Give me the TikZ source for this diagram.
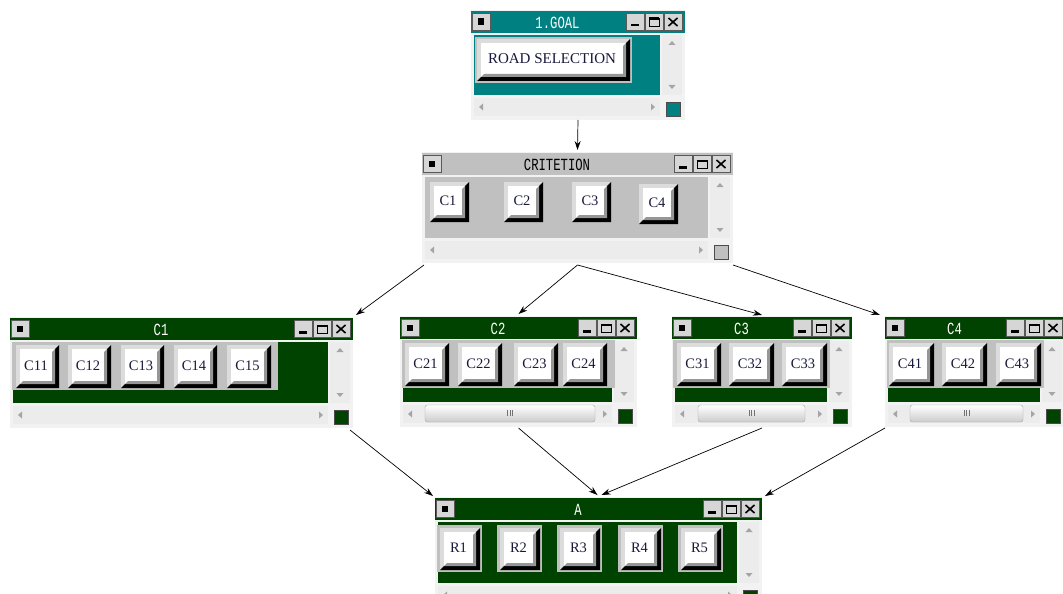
\documentclass[tikz,border=0pt]{standalone}
\usepackage{fontspec}
\setmainfont{Liberation Serif}
\newfontfamily\titlefont{Liberation Mono}
\usetikzlibrary{calc,arrows.meta}

\definecolor{winteal}{RGB}{0,128,128}
\definecolor{wingreen}{RGB}{0,66,0}
\definecolor{wingray}{RGB}{192,192,192}
\definecolor{winbg}{RGB}{242,242,242}
\definecolor{scrollbg}{RGB}{236,236,236}
\definecolor{tbgray}{RGB}{214,214,214}
\definecolor{btnhi}{RGB}{220,220,220}
\definecolor{btnmid}{RGB}{150,150,150}
\definecolor{btnink}{RGB}{25,25,60}
\definecolor{arrowgray}{RGB}{165,165,165}

\tikzset{
  winbox/.style={rectangle, fill=winbg, draw=none, inner sep=0pt, outer sep=0pt},
  titletext/.style={font=\titlefont\fontsize{17}{17}\selectfont, inner sep=0pt},
  btntext/.style={font=\fontsize{14.5}{14.5}\selectfont, text=btnink, inner sep=0pt},
  link/.style={-{Stealth[length=9pt,width=6pt]}, line width=0.7pt, black},
}

% small bevelled box of a title bar
\newcommand\tbbox[2]{%
  \filldraw[fill=tbgray, draw=black!65, line width=0.7pt] (#1,#2) rectangle (#1+18,#2+17);}

% application window: name, x, y, width, height, colour, title colour, title
\newcommand\appwin[8]{%
  \node[winbox, minimum width=#4pt, minimum height=#5pt, anchor=north west] (#1) at (#2,#3) {};
  \begin{scope}[shift={(#2,#3)}]
    % title bar
    \fill[#6] (0,1) rectangle (#4,23);
    \tbbox{1}{3.5}
    \fill[black] (6.5,8.5) rectangle (13,15);
    \tbbox{#4-59}{3.5}
    \fill[black] (#4-54,14) rectangle (#4-46,16.5);
    \tbbox{#4-40}{3.5}
    \draw[black, line width=0.9pt] (#4-36,8.5) rectangle (#4-26,16.5);
    \fill[black] (#4-36,7.5) rectangle (#4-26,9.8);
    \tbbox{#4-21}{3.5}
    \draw[black, line width=1.6pt] (#4-16.5,8) -- (#4-7.5,16) (#4-7.5,8) -- (#4-16.5,16);
    \node[titletext, text=#7] at ({(18+#4-59)/2},12.5) {\scalebox{0.72}[1]{#8}};
    % client area
    \fill[#6] (3,25) rectangle (#4-25,#5-25);
    % vertical scroll bar
    \fill[scrollbg] (#4-23,25) rectangle (#4-3,#5-25);
    \fill[arrowgray] (#4-13,31) -- (#4-16.5,35) -- (#4-9.5,35) -- cycle;
    \fill[arrowgray] (#4-13,#5-31) -- (#4-16.5,#5-35) -- (#4-9.5,#5-35) -- cycle;
    % horizontal scroll bar
    \fill[scrollbg] (3,#5-22) rectangle (#4-25,#5-4);
    \fill[arrowgray] (8,#5-13) -- (12,#5-16.5) -- (12,#5-9.5) -- cycle;
    \fill[arrowgray] (#4-30,#5-13) -- (#4-34,#5-16.5) -- (#4-34,#5-9.5) -- cycle;
    % size box
    \filldraw[fill=#6, draw=black!70, line width=0.6pt] (#4-19,#5-18) rectangle (#4-5,#5-4);
  \end{scope}}

% scroll thumb with its grip: x, y, width, height
\newcommand\scrollthumb[4]{%
  \shade[top color=white, bottom color=black!20, draw=black!35, rounded corners=2.5pt]
    (#1,#2) rectangle (#1+#3,#2+#4);
  \draw[black!55, line width=0.7pt]
    (#1+#3/2-2.5,#2+5) -- ++(0,6) (#1+#3/2,#2+5) -- ++(0,6) (#1+#3/2+2.5,#2+5) -- ++(0,6);}

% push button: name, x0, y0, x1, y1, label
\newcommand\winbtn[6]{%
  \fill[btnhi] (#2,#3) -- (#4,#3) -- (#4-4,#3+4) -- (#2+4,#3+4) -- (#2+4,#5-4) -- (#2,#5) -- cycle;
  \fill[black] (#4,#3) -- (#4,#5) -- (#2,#5) -- (#2+4,#5-4) -- (#4-4,#5-4) -- (#4-4,#3+4) -- cycle;
  \fill[white] (#2+4,#3+4) rectangle (#4-4,#5-4);
  \fill[btnmid] (#4-4,#3+4) -- (#4-4,#5-4) -- (#2+4,#5-4) -- (#2+7,#5-7) -- (#4-7,#5-7) -- (#4-7,#3+7) -- cycle;
  \node[btntext] (#1) at ($(#2,#3)!0.5!(#4,#5)+(-1.5,-1)$) {#6};}

\begin{document}
\begin{tikzpicture}[x=1pt,y=-1pt]
  \useasboundingbox (0,0) rectangle (1063,594);
  \clip (0,0) rectangle (1063,594);

  % goal
  \appwin{goal}{471}{10}{214}{110}{winteal}{white}{1.GOAL}
  \fill[wingray] (475,37) rectangle (632,83);
  \winbtn{road}{477}{39}{630}{81}{\fontsize{15}{15}\selectfont ROAD SELECTION}

  % criteria
  \appwin{crit}{422}{152}{311}{111}{wingray}{black}{CRITETION}
  \winbtn{k1}{430}{182}{469}{222}{C1}
  \winbtn{k2}{504}{182}{543}{222}{C2}
  \winbtn{k3}{572}{182}{611}{222}{C3}
  \winbtn{k4}{639}{184}{678}{224}{C4}

  % sub-criteria of C1
  \appwin{cw1}{10}{317}{343}{111}{wingreen}{white}{C1}
  \fill[wingray] (12,342) rectangle (278,390);
  \winbtn{c11}{16}{345}{59}{388}{C11}
  \winbtn{c12}{68}{345}{111}{388}{C12}
  \winbtn{c13}{121}{345}{164}{388}{C13}
  \winbtn{c14}{174}{345}{217}{388}{C14}
  \winbtn{c15}{227}{345}{271}{388}{C15}

  % sub-criteria of C2
  \appwin{cw2}{400}{316}{237}{111}{wingreen}{white}{C2}
  \fill[wingray] (402,340) rectangle (615,388);
  \winbtn{c21}{405}{343}{449}{386}{C21}
  \winbtn{c22}{458}{343}{502}{386}{C22}
  \winbtn{c23}{514}{343}{558}{386}{C23}
  \winbtn{c24}{563}{343}{607}{386}{C24}
  \scrollthumb{425}{405}{170}{17}

  % sub-criteria of C3
  \appwin{cw3}{672}{316}{180}{111}{wingreen}{white}{C3}
  \fill[wingray] (673,340) rectangle (830,388);
  \winbtn{c31}{677}{343}{721}{386}{C31}
  \winbtn{c32}{729}{343}{774}{386}{C32}
  \winbtn{c33}{782}{343}{827}{386}{C33}
  \scrollthumb{698}{405}{107}{17}

  % sub-criteria of C4
  \appwin{cw4}{885}{316}{180}{111}{wingreen}{white}{C4}
  \fill[wingray] (887,340) rectangle (1044,388);
  \winbtn{c41}{889}{343}{934}{386}{C41}
  \winbtn{c42}{942}{343}{987}{386}{C42}
  \winbtn{c43}{996}{343}{1041}{386}{C43}
  \scrollthumb{910}{405}{113}{17}

  % alternatives
  \appwin{alt}{435}{497}{327}{111}{wingreen}{white}{A}
  \foreach \x/\r in {437/1,497/2,557/3,618/4,678/5}{
    \fill[wingray] (\x,525) rectangle (\x+45,572);
    \winbtn{r\r}{\x+3}{528}{\x+43}{570}{R\r}
  }

  % hierarchy links
  \draw[link] (goal.south) -- ([yshift=2pt]crit.north);
  \draw[link] ([shift={(2pt,-2pt)}]crit.south west) -- ([shift={(3pt,2pt)}]cw1.north east);
  \draw[link] ([yshift=-2pt]crit.south) -- ([yshift=2pt]cw2.north);
  \draw[link] ([yshift=-2pt]crit.south) -- ([yshift=1pt]cw3.north);
  \draw[link] ([yshift=-2pt]crit.south east) -- ([shift={(-5pt,1pt)}]cw4.north west);
  \draw[link] ([shift={(-3pt,-2pt)}]cw1.south east) -- ([shift={(-2pt,1pt)}]alt.north west);
  \draw[link] ([yshift=-1pt]cw2.south) -- ([shift={(-1pt,2pt)}]alt.north);
  \draw[link] ([yshift=-1pt]cw3.south) -- ([shift={(3pt,2pt)}]alt.north);
  \draw[link] ([yshift=-1pt]cw4.south west) -- ([shift={(3pt,1pt)}]alt.north east);
\end{tikzpicture}
\end{document}
